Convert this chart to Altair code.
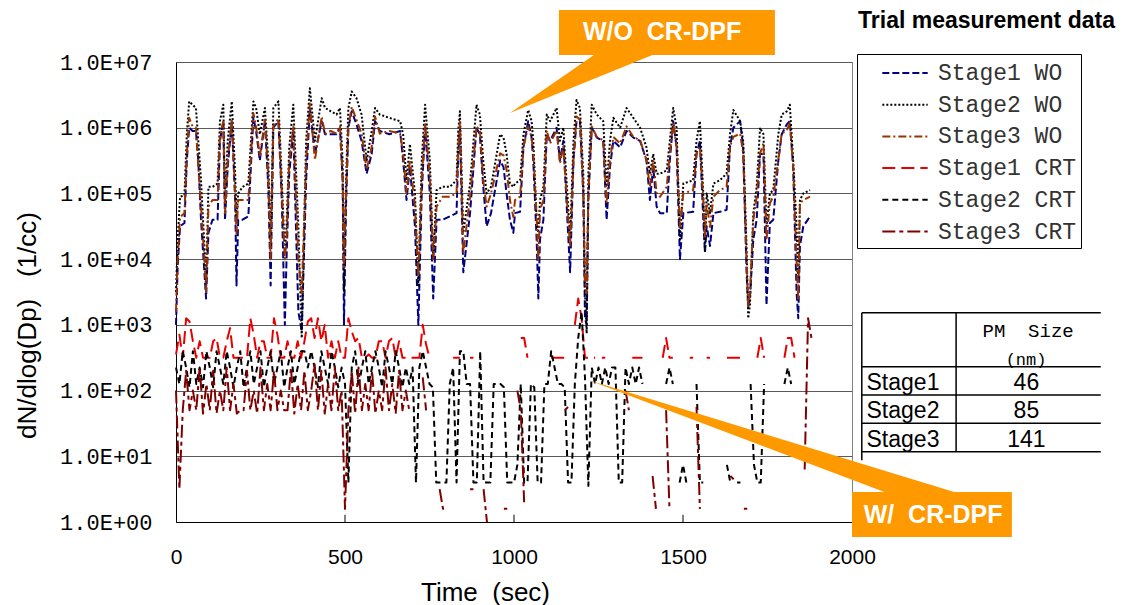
import altair as alt
import pandas as pd

# ---------------- series definitions ----------------
SERIES = ["Stage1 WO", "Stage2 WO", "Stage3 WO", "Stage1 CRT", "Stage2 CRT", "Stage3 CRT"]
COLORS = ["#000080", "#000000", "#993300", "#E60000", "#000000", "#800000"]
DASHES = [[7, 3], [2, 2], [8, 3, 2, 3], [13, 6], [6, 4], [13, 4, 4, 4]]
WIDTHS = [2.0, 2.0, 2.4, 3, 3, 3]

# ---------------- W/O CR-DPF data (log10 of dN/dlogDp) ----------------
T_WO = [0, 5, 12, 25, 32, 39, 49, 59, 66, 74,
        84, 89, 96, 108, 123, 130, 140, 145, 153, 165,
        175, 179, 184, 197, 214, 229, 237, 248, 263, 273,
        280, 288, 303, 313, 322, 327, 335, 347, 362, 372,
        385, 396, 411, 431, 441, 458, 475, 485, 493, 497,
        503, 510, 520, 534, 549, 564, 579, 589, 603, 631,
        663, 672, 682, 692, 707, 717, 727, 737, 751, 761,
        771, 789, 810, 830, 835, 840, 850, 870, 889, 899,
        909, 919, 932,
        959, 969, 978, 988, 998, 1003, 1018, 1028, 1042, 1052,
        1057, 1067, 1072, 1077, 1087, 1097, 1107, 1126, 1136, 1146,
        1166, 1176, 1185, 1195, 1205, 1210, 1215, 1220, 1230, 1245,
        1264, 1274, 1284, 1294, 1314, 1333, 1353, 1373, 1392, 1402,
        1412, 1422, 1432, 1452, 1461, 1471, 1481, 1491, 1501, 1530,
        1540, 1550, 1560, 1565, 1570, 1580, 1590, 1609, 1629, 1639,
        1649, 1669, 1678, 1688, 1693, 1698, 1708, 1718, 1728, 1738,
        1747, 1757, 1767, 1782, 1792, 1807, 1816, 1826, 1836, 1841,
        1846, 1856, 1876]

STAGE1_WO = [3.0, 3.9, 4.5, 4.55, 5.5, 6.0, 5.95, 5.95, 5.5, 4.6,
             3.8, 3.4, 4.4, 4.6, 4.6, 5.8, 6.1, 4.6, 5.4, 6.1,
             4.9, 3.6, 4.6, 4.6, 4.65, 6.15, 5.95, 5.5, 6.1, 5.1,
             3.6, 6.0, 6.1, 4.9, 3.0, 4.0, 5.3, 5.95, 3.2, 2.9,
             5.2, 6.3, 5.6, 6.1, 5.9, 5.9, 5.9, 6.0, 5.2, 3.0,
             4.8, 6.0, 6.25, 6.05, 5.8, 5.3, 5.6, 6.1, 5.95, 5.9,
             5.95, 5.5, 4.9, 5.4, 4.5, 3.0, 5.0, 6.0, 5.0, 3.4,
             4.6, 4.6, 4.65, 4.7, 5.6, 6.0, 3.8, 4.7, 6.0, 5.9,
             5.1, 4.5, 4.7,
             5.5, 5.4, 5.0, 4.6, 4.4, 4.7, 4.72, 5.7, 6.1, 5.85,
             5.5, 4.3, 3.4, 4.3, 4.6, 5.9, 5.8, 6.0, 5.5, 5.8,
             3.8, 5.5, 6.1, 6.1, 5.0, 3.1, 3.0, 4.9, 6.0, 5.85,
             5.8, 4.6, 5.4, 5.8, 5.7, 5.95, 5.85, 5.8, 5.5, 4.9,
             5.4, 4.8, 4.7, 4.7, 5.5, 6.1, 5.7, 4.0, 4.7, 4.72,
             5.6, 5.8, 4.6, 4.1, 4.5, 4.2, 4.7, 4.72, 4.75, 5.7,
             6.0, 6.1, 5.7, 3.8, 3.27, 3.4, 4.3, 4.6, 5.6, 5.6,
             3.3, 4.55, 4.6, 5.5, 5.9, 6.05, 6.1, 5.4, 3.5, 3.1,
             4.2, 4.5, 4.65]

STAGE2_WO = [3.5, 4.3, 4.95, 4.97, 5.9, 6.4, 6.35, 6.3, 5.8, 5.2,
             4.2, 3.6, 5.1, 5.1, 5.15, 6.1, 6.35, 4.9, 5.8, 6.4,
             5.3, 4.6, 5.0, 5.1, 5.15, 6.4, 6.3, 5.9, 6.3, 5.5,
             4.2, 6.3, 6.4, 5.2, 4.1, 4.5, 5.7, 6.35, 4.5, 2.8,
             5.8, 6.6, 5.8, 6.45, 6.3, 6.25, 6.2, 6.3, 5.5, 3.5,
             5.2, 6.3, 6.55, 6.45, 6.2, 5.5, 5.95, 6.3, 6.2, 6.15,
             6.1, 5.9, 5.2, 5.75, 5.0, 3.6, 5.5, 6.35, 5.5, 4.0,
             5.05, 5.1, 5.1, 5.2, 5.95, 6.25, 4.4, 5.15, 6.35, 6.2,
             5.5, 5.0, 5.1,
             5.9, 5.85, 5.6, 5.15, 5.1, 5.15, 5.2, 5.9, 6.27, 6.1,
             5.8, 4.6, 4.4, 4.9, 5.1, 6.2, 6.1, 6.3, 5.8, 6.0,
             4.3, 5.8, 6.42, 6.3, 5.3, 3.5, 2.87, 5.3, 6.35, 6.2,
             6.1, 5.1, 5.8, 6.15, 6.0, 6.3, 6.15, 6.0, 5.7, 5.3,
             5.6, 5.3, 5.3, 5.35, 5.8, 6.3, 6.0, 4.3, 5.15, 5.2,
             5.8, 6.1, 5.0, 4.1, 5.0, 4.7, 5.15, 5.2, 5.3, 5.9,
             6.27, 6.1, 5.8, 4.2, 3.1, 3.3, 4.7, 5.1, 6.0, 5.9,
             4.5, 5.0, 5.05, 5.9, 6.2, 6.25, 6.35, 5.5, 4.5, 3.7,
             4.9, 5.0, 5.05]

STAGE3_WO = [3.2, 4.0, 4.64, 4.7, 5.6, 6.15, 6.02, 6.0, 5.4, 4.8,
             4.0, 3.5, 4.8, 4.9, 4.9, 5.86, 6.09, 4.7, 5.5, 6.12,
             5.0, 4.39, 4.9, 4.9, 4.9, 6.22, 6.02, 5.56, 6.12, 5.25,
             4.0, 6.02, 6.14, 5.0, 4.0, 4.29, 5.5, 6.02, 4.0, 3.48,
             5.5, 6.37, 5.51, 6.17, 5.91, 5.95, 5.91, 6.02, 5.25, 3.88,
             5.0, 6.02, 6.32, 6.12, 5.91, 5.36, 5.71, 6.17, 5.91, 5.95,
             5.91, 5.61, 5.0, 5.51, 4.8, 3.73, 5.2, 6.07, 5.25, 4.0,
             4.8, 4.95, 4.95, 5.0, 5.71, 6.09, 4.09, 4.95, 6.02, 5.96,
             5.2, 4.8, 5.0,
             5.61, 5.58, 5.36, 4.9, 4.64, 4.9, 4.95, 5.71, 6.02, 5.86,
             5.61, 4.64, 3.98, 4.75, 4.9, 5.96, 5.76, 5.96, 5.46, 5.71,
             4.19, 5.51, 6.17, 6.12, 5.0, 3.68, 3.48, 5.0, 6.02, 5.86,
             5.81, 4.85, 5.51, 5.86, 5.76, 6.02, 5.86, 5.81, 5.51, 5.10,
             5.51, 5.0, 4.95, 5.10, 5.61, 6.07, 5.71, 4.49, 5.0, 5.05,
             5.61, 5.71, 4.9, 4.34, 4.85, 4.49, 4.95, 5.05, 5.10, 5.71,
             5.86, 5.91, 5.61, 3.98, 3.27, 3.48, 4.59, 4.95, 5.61, 5.76,
             4.29, 4.85, 4.95, 5.51, 5.91, 5.96, 6.07, 5.41, 3.98, 3.38,
             4.85, 4.9, 4.95]

# ---------------- W/ CR-DPF data (log10), sampled every 10 s; None = no reading ----------------
T_CRT = list(range(0, 1881, 10))
N = None

STAGE1_CRT = [2.55, 2.85, 2.5, 3.1, 3.05, 2.75, 2.5, 2.75, 2.5, 2.5,
              2.5, 2.75, 2.8, 2.5, 2.5, 2.75, 2.95, 2.5, 2.5, 2.5,
              2.5, 2.5, 3.1, 2.85, 2.5, 2.75, 2.75, 2.5, 2.5, 3.1,
              2.85, 2.5, 2.5, 2.75, 2.5, 2.5, 2.75, 2.5, 2.75, 3.05,
              3.1, 2.8, 3.1, 2.75, 3.0, 2.5, 2.75, 2.5, 2.75, 2.5,
              2.5, 3.1, 2.9, 2.75, 2.8, 2.5, 2.5, 2.55, 2.5, 2.5,
              2.75, 2.75, 2.5, 2.75, 2.8, 2.5, 2.75, 2.5, 2.5, 2.5,
              2.5, 2.5, 2.5, 3.0, 2.7, 2.5, N, N, N, N,
              N, N, 2.5, 2.5, 2.5, N, N, 2.5, 2.5, N,
              N, N, N, N, N, N, N, N, N, N,
              N, N, 2.8, 2.8, 2.5, N, N, N, N, N,
              N, 2.5, 2.5, 2.5, 2.5, 2.5, N, N, 3.0, 3.4,
              3.1, 2.5, 2.5, 2.5, 2.5, N, 2.5, 2.5, N, N,
              N, N, N, N, N, 2.5, 2.5, 2.5, 2.5, N,
              N, N, N, N, 2.5, 2.8, 2.5, 2.5, N, N,
              N, N, 2.5, 2.5, N, N, N, 2.5, 2.5, N,
              N, N, N, 2.5, 2.5, 2.5, 2.5, 2.5, N, N,
              N, N, 2.5, 2.8, 2.5, N, N, N, N, N,
              2.5, 2.8, 2.8, 2.5, N, N, N, N, N]

STAGE2_CRT = [2.35, 2.1, 2.6, 2.35, 2.05, 2.6, 2.1, 2.35, 2.05, 2.6,
              2.35, 2.05, 2.6, 2.35, 2.1, 2.6, 2.35, 2.05, 2.35, 2.6,
              2.05, 2.35, 2.6, 2.1, 2.35, 2.6, 2.05, 2.35, 2.6, 2.1,
              2.35, 2.6, 2.05, 2.35, 2.6, 2.1, 2.35, 2.6, 2.6, 2.35,
              2.6, 2.35, 2.05, 2.6, 2.35, 2.1, 2.6, 2.35, 2.05, 2.35,
              2.1, 0.6, 2.35, 2.6, 2.05, 2.35, 2.6, 2.1, 2.35, 2.6,
              2.35, 2.05, 2.6, 2.35, 2.1, 2.6, 2.35, 2.05, 2.35, 2.1,
              2.35, 0.6, 2.35, 2.6, 2.35, 2.1, 2.05, 0.6, 0.6, 0.6,
              0.6, 2.1, 2.35, 0.6, 2.6, 2.6, 2.1, 2.1, 0.6, 0.6,
              2.6, 0.6, 0.6, 0.6, 2.1, 2.1, 2.1, 2.05, 0.6, 0.6,
              0.6, 0.87, 2.1, 0.6, 0.6, 2.1, 2.05, 0.6, 0.6, 2.1,
              2.1, 2.6, 2.35, 2.1, 2.1, 2.05, 0.6, 0.6, 2.1, 2.8,
              3.2, 2.2, 0.55, 2.35, 2.1, 2.35, 2.1, 2.35, 2.1, 2.35,
              2.35, 0.6, 0.6, 2.35, 2.1, 2.35, 2.1, 2.35, 2.1, N,
              N, N, N, N, N, 2.1, 2.35, 2.1, N, 0.6,
              0.87, 0.6, N, N, 2.1, 0.6, 0.6, N, N, N,
              N, N, N, 0.87, 0.6, N, 0.6, 0.6, N, N,
              2.1, 0.87, 0.6, 0.6, 2.1, N, N, N, N, N,
              2.1, 2.35, 2.1, N, N, N, N, N, N]

STAGE3_CRT = [2.0, 0.5, 1.7, 2.3, 1.7, 2.0, 1.7, 2.35, 1.65, 2.1,
              1.7, 2.3, 1.65, 2.0, 1.7, 2.35, 1.7, 2.1, 1.65, 1.7,
              1.7, 2.3, 1.7, 2.0, 1.65, 2.35, 1.7, 2.1, 1.7, 2.3,
              1.7, 2.0, 1.7, 1.7, 2.35, 1.65, 2.1, 1.7, 2.3, 1.7,
              2.0, 2.4, 1.7, 2.3, 1.65, 2.1, 1.7, 2.35, 1.7, 2.0,
              0.2, 1.7, 2.3, 1.65, 2.35, 1.7, 2.1, 1.7, 2.3, 1.65,
              2.0, 1.7, 2.35, 1.7, 2.1, 1.65, 2.3, 1.7, 2.0, 1.7,
              N, N, N, 2.2, 1.7, N, N, N, 0.5, 0.2,
              0.2, N, N, N, N, N, N, 0.5, 0.5, N,
              N, 0.5, 0.0, N, N, N, N, 0.2, 0.2, N,
              N, 2.0, 1.7, 0.3, N, N, N, N, N, N,
              N, N, N, N, N, 1.7, 1.75, N, N, N,
              N, N, N, N, N, N, N, N, N, N,
              N, N, N, 2.0, 1.7, N, N, N, N, N,
              N, 0.7, 0.2, N, N, 1.7, 0.2, N, N, N,
              N, N, N, N, 1.75, 0.2, N, N, N, N,
              N, N, N, N, 0.7, 0.65, N, N, 0.2, 0.2,
              N, N, N, N, N, N, N, N, N, N,
              N, N, N, N, N, N, 0.8, 3.1, 2.8]

# ---------------- annotations ----------------
NB = "\u00a0"
X_TICKS = [500, 1000, 1500]
CALLOUT_LABELS = ["W/O" + NB * 2 + "CR-DPF", "W/" + NB * 2 + "CR-DPF"]
CALLOUT_T0 = [1133, 2000]
CALLOUT_T1 = [1772, 2473]
CALLOUT_V0 = [7.107, -0.23]
CALLOUT_V1 = [7.79, 0.455]
CALLOUT_TEXT_T = [1438, 2240]
CALLOUT_TEXT_V = [7.45, 0.11]
POINTER1_T = [988, 1257, 1444]
POINTER1_TOP = [6.224, 7.18, 7.18]
POINTER1_BOT = [6.224, 6.788, 7.18]
POINTER2_T = [1219, 2300]
POINTER2_TOP = [2.16, 0.46]
POINTER2_BOT = [2.16, 0.06]

TITLE_TEXT = "Trial measurement data"
TITLE_T, TITLE_V = 2778, 7.62
X_TITLE = "Time" + NB * 2 + "(sec)"
Y_TITLE = "dN/dlog(Dp)" + NB * 3 + "(1/cc)"

# ---------------- inset table ----------------
TABLE_STAGES = ["Stage1", "Stage2", "Stage3"]
TABLE_SIZES = ["46", "85", "141"]
TABLE_ROW_V = [2.11, 1.685, 1.25]
TABLE_HEADER = ["PM" + NB * 2 + "Size", "(nm)"]
TABLE_HEADER_V = [2.90, 2.46]
TABLE_HLINES = [3.184, 2.362, 1.931, 1.501, 1.068]
TABLE_VLINES_T = [2029, 2308]
TABLE_VLINES_V0 = [0.94, 1.068]
TABLE_LEFT_T, TABLE_RIGHT_T = 2029, 2736
TABLE_NAME_T, TABLE_VALUE_T = 2043, 2516

# ---------------- build frames ----------------
for arr in (STAGE1_WO, STAGE2_WO, STAGE3_WO):
    assert len(arr) == len(T_WO), len(arr)
for arr in (STAGE1_CRT, STAGE2_CRT, STAGE3_CRT):
    assert len(arr) == len(T_CRT), len(arr)

rows = []
for name, times, vals in [
    (SERIES[0], T_WO, STAGE1_WO), (SERIES[1], T_WO, STAGE2_WO), (SERIES[2], T_WO, STAGE3_WO),
    (SERIES[3], T_CRT, STAGE1_CRT), (SERIES[4], T_CRT, STAGE2_CRT), (SERIES[5], T_CRT, STAGE3_CRT),
]:
    for t, v in zip(times, vals):
        rows.append({"t": t, "v": v, "series": name})
lines_df = pd.DataFrame(rows)

X_SCALE = alt.Scale(domain=[0, 2000], nice=False, zero=False)
Y_SCALE = alt.Scale(domain=[0, 7], nice=False, zero=False)

legend = alt.Legend(
    title=None, orient="none", legendX=681, legendY=-8,
    symbolType="M-1.62,0H1.62", symbolSize=784, symbolOffset=29,
    labelOffset=18, labelFont="Liberation Mono", labelFontSize=23, labelColor="#333333",
    labelExpr="datum.label + '  '",
    padding=4, rowPadding=4.7, strokeColor="#000000", fillColor="#ffffff",
)

x_axis = alt.Axis(
    values=[0, 500, 1000, 1500, 2000], format="d", grid=False, ticks=False, domainColor="#000000",
    labelFont="Liberation Sans", labelFontSize=21, labelColor="#000000", labelPadding=24,
    labelFlush=False, title=X_TITLE, titleFont="Liberation Sans", titleFontSize=26,
    titleFontWeight="normal", titleColor="#000000", titleX=309, titleY=70, titleBaseline="middle",
)
y_axis = alt.Axis(
    values=[0, 1, 2, 3, 4, 5, 6, 7], labelExpr="'1.0E+0' + datum.value", grid=True,
    gridColor="#5a5a5a", gridWidth=1, ticks=False, domainColor="#000000",
    labelFont="Liberation Mono", labelFontSize=22, labelColor="#000000", labelPadding=24,
    title=Y_TITLE, titleFont="Liberation Sans", titleFontSize=26,
    titleFontWeight="normal", titleColor="#000000", titleX=-149, titleY=263, titleBaseline="middle",
)

xa = dict(scale=X_SCALE, axis=x_axis)
ya = dict(scale=Y_SCALE, axis=y_axis)

base = alt.Chart(lines_df).mark_line(strokeJoin="round", invalid="break-paths-show-domains").encode(
    x=alt.X("t:Q", **xa),
    y=alt.Y("v:Q", **ya),
    color=alt.Color("series:N", scale=alt.Scale(domain=SERIES, range=COLORS), legend=legend),
    strokeDash=alt.StrokeDash("series:N", scale=alt.Scale(domain=SERIES, range=DASHES), legend=legend),
    strokeWidth=alt.StrokeWidth("series:N", scale=alt.Scale(domain=SERIES, range=WIDTHS), legend=legend),
)
line_layers = [base.transform_filter(alt.datum.series == s) for s in SERIES]

ticks_df = pd.DataFrame({"t": X_TICKS, "v0": [0.0] * len(X_TICKS), "v1": [0.11] * len(X_TICKS)})
tick_layer = alt.Chart(ticks_df).mark_rule(color="#000000", strokeWidth=1).encode(
    x=alt.X("t:Q", **xa), y=alt.Y("v0:Q", **ya), y2="v1:Q")

p1 = pd.DataFrame({"t": POINTER1_T, "top": POINTER1_TOP, "bot": POINTER1_BOT})
p2 = pd.DataFrame({"t": POINTER2_T, "top": POINTER2_TOP, "bot": POINTER2_BOT})
pointer_layers = [
    alt.Chart(p).mark_area(color="#FF9900", opacity=1).encode(
        x=alt.X("t:Q", **xa), y=alt.Y("top:Q", **ya), y2="bot:Q")
    for p in (p1, p2)
]

box_df = pd.DataFrame({"t0": CALLOUT_T0, "t1": CALLOUT_T1, "v0": CALLOUT_V0, "v1": CALLOUT_V1})
box_layer = alt.Chart(box_df).mark_rect(color="#FF9900").encode(
    x=alt.X("t0:Q", **xa), x2="t1:Q", y=alt.Y("v0:Q", **ya), y2="v1:Q")

callout_text_df = pd.DataFrame({"t": CALLOUT_TEXT_T, "v": CALLOUT_TEXT_V, "label": CALLOUT_LABELS})
callout_text = alt.Chart(callout_text_df).mark_text(
    font="Liberation Sans", fontSize=25, fontWeight="bold", color="#ffffff", align="center", baseline="middle"
).encode(x=alt.X("t:Q", **xa), y=alt.Y("v:Q", **ya), text="label:N")

title_df = pd.DataFrame({"t": [TITLE_T], "v": [TITLE_V], "label": [TITLE_TEXT]})
title_layer = alt.Chart(title_df).mark_text(
    font="Liberation Sans", fontSize=23, fontWeight="bold", color="#000000", align="right", baseline="middle"
).encode(x=alt.X("t:Q", **xa), y=alt.Y("v:Q", **ya), text="label:N")

# table
hl_df = pd.DataFrame({"t0": [TABLE_LEFT_T] * len(TABLE_HLINES), "t1": [TABLE_RIGHT_T] * len(TABLE_HLINES),
                      "v": TABLE_HLINES})
hl_layer = alt.Chart(hl_df).mark_rule(color="#000000", strokeWidth=1.5).encode(
    x=alt.X("t0:Q", **xa), x2="t1:Q", y=alt.Y("v:Q", **ya))
vl_df = pd.DataFrame({"t": TABLE_VLINES_T, "v0": TABLE_VLINES_V0, "v1": [TABLE_HLINES[0]] * len(TABLE_VLINES_T)})
vl_layer = alt.Chart(vl_df).mark_rule(color="#000000", strokeWidth=1.5).encode(
    x=alt.X("t:Q", **xa), y=alt.Y("v0:Q", **ya), y2="v1:Q")

names_df = pd.DataFrame({"t": [TABLE_NAME_T] * 3, "v": TABLE_ROW_V, "label": TABLE_STAGES})
names_layer = alt.Chart(names_df).mark_text(
    font="Liberation Sans", fontSize=23, color="#000000", align="left", baseline="middle"
).encode(x=alt.X("t:Q", **xa), y=alt.Y("v:Q", **ya), text="label:N")
vals_df = pd.DataFrame({"t": [TABLE_VALUE_T] * 3, "v": TABLE_ROW_V, "label": TABLE_SIZES})
vals_layer = alt.Chart(vals_df).mark_text(
    font="Liberation Sans", fontSize=23, color="#000000", align="center", baseline="middle"
).encode(x=alt.X("t:Q", **xa), y=alt.Y("v:Q", **ya), text="label:N")
head_df = pd.DataFrame({"t": [2521, 2515], "v": TABLE_HEADER_V, "label": TABLE_HEADER, "fs": [19, 17]})
head_layer = alt.Chart(head_df).mark_text(
    font="Liberation Mono", color="#000000", align="center", baseline="middle"
).encode(x=alt.X("t:Q", **xa), y=alt.Y("v:Q", **ya), text="label:N",
         size=alt.Size("fs:Q", scale=None, legend=None))

chart = alt.layer(
    *line_layers, tick_layer, *pointer_layers, box_layer, callout_text, title_layer,
    hl_layer, vl_layer, names_layer, vals_layer, head_layer,
).properties(
    width=676, height=460,
    padding={"left": 168, "top": 54, "right": 268, "bottom": 85},
    autosize=alt.AutoSizeParams(type="none"),
).configure_view(stroke="#808080", strokeWidth=1)

chart.save("out.html", embed_options={"renderer": "svg", "actions": False})
